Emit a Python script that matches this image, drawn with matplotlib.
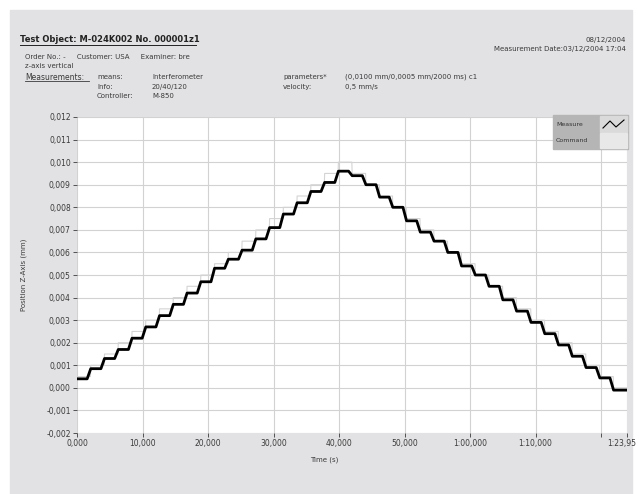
import matplotlib.pyplot as plt
import numpy as np
from matplotlib.patches import Rectangle
from matplotlib.transforms import ScaledTranslation

# step start times (s), plus end time
step_times = [0.0, 2.1, 4.2, 6.3, 8.4, 10.5, 12.6, 14.7, 16.8, 18.9,
              21.0, 23.1, 25.2, 27.3, 29.4, 31.5, 33.6, 35.7, 37.8, 39.9,
              42.0, 44.1, 46.2, 48.2, 50.3, 52.4, 54.5, 56.6, 58.7, 60.8,
              62.9, 65.0, 67.1, 69.3, 71.4, 73.5, 75.6, 77.7, 79.8, 81.9]
end_time = 83.95

# measured position (mm) for each step
measure = [0.0004, 0.00085, 0.0013, 0.0017, 0.0022, 0.0027, 0.0032, 0.0037, 0.0042, 0.0047,
           0.0053, 0.0057, 0.0061, 0.0066, 0.0071, 0.0077, 0.0082, 0.0087, 0.0091, 0.0096,
           0.0094, 0.0090, 0.00845, 0.0080, 0.0074, 0.0069, 0.0065, 0.0060, 0.0054, 0.0050,
           0.0045, 0.0039, 0.0034, 0.0029, 0.0024, 0.0019, 0.0014, 0.0009, 0.00044, -0.0001]

# commanded position (mm)
command = [0.0005, 0.0010, 0.0015, 0.0020, 0.0025, 0.0030, 0.0035, 0.0040, 0.0045, 0.0050,
           0.0055, 0.0060, 0.0065, 0.0070, 0.0075, 0.0080, 0.0085, 0.0090, 0.0095, 0.0100,
           0.0095, 0.0090, 0.0085, 0.0080, 0.0075, 0.0070, 0.0065, 0.0060, 0.0055, 0.0050,
           0.0045, 0.0040, 0.0035, 0.0030, 0.0025, 0.0020, 0.0015, 0.0010, 0.0005, 0.0000]

x_ticks = [0, 10, 20, 30, 40, 50, 60, 70, 80, 83.95]
x_labels = ['0,000', '10,000', '20,000', '30,000', '40,000', '50,000',
            '1:00,000', '1:10,000', '', '1:23,95']
y_ticks = [-0.002, -0.001, 0.000, 0.001, 0.002, 0.003, 0.004, 0.005, 0.006,
           0.007, 0.008, 0.009, 0.010, 0.011, 0.012]
y_labels = ['-0,002', '-0,001', '0,000', '0,001', '0,002', '0,003', '0,004', '0,005',
            '0,006', '0,007', '0,008', '0,009', '0,010', '0,011', '0,012']


def staircase(times, levels, end, ramp=0.35):
    # plateau on each level, short slanted move to the next one
    xs, ys = [], []
    bounds = list(times) + [end]
    for i, lvl in enumerate(levels):
        xs += [bounds[i], bounds[i + 1] - (ramp if i < len(levels) - 1 else 0)]
        ys += [lvl, lvl]
    return xs, ys


txt = '#3a3a3a'
fig = plt.figure(figsize=(6.39, 4.94), dpi=100)
fig.patches.append(Rectangle((10 / 639, 0), 622 / 639, 484 / 494,
                             transform=fig.transFigure, color='#e2e2e4', zorder=-1))

ax = fig.add_axes([77 / 639, (494 - 433) / 494, 550 / 639, 316 / 494])
ax.set_facecolor('white')

cx, cy = staircase(step_times, command, end_time, ramp=0.05)
ax.plot(cx, cy, color='#d4d4d4', lw=0.8, zorder=2)
mx, my = staircase(step_times, measure, end_time, ramp=0.55)
ax.plot(mx, my, color='black', lw=2.0, zorder=3)

ax.set_xlim(0, end_time)
ax.set_ylim(-0.002, 0.012)
ax.set_xticks(x_ticks)
ax.set_xticklabels(x_labels)
ax.set_yticks(y_ticks)
ax.set_yticklabels(y_labels)
ax.tick_params(labelsize=5.5, colors=txt, length=3, width=0.6, pad=1.5)
last = ax.get_xticklabels()[-1]
last.set_horizontalalignment('right')
last.set_transform(last.get_transform() + ScaledTranslation(0.09, 0, fig.dpi_scale_trans))
ax.grid(True, color='#d2d2d2', lw=0.8)
for s in ax.spines.values():
    s.set_visible(False)
ax.set_xlabel('Time (s)', fontsize=5, color=txt, labelpad=5)
ax.xaxis.set_label_coords(0.45, -0.075)
ax.set_ylabel('Position Z-Axis (mm)', fontsize=5, color=txt, labelpad=14)

# legend box
fig.patches.append(Rectangle((553 / 639, (494 - 149) / 494), 75 / 639, 34 / 494,
                             transform=fig.transFigure, color='#b5b5b5', zorder=5))
fig.patches.append(Rectangle((600 / 639, (494 - 132) / 494), 27 / 639, 16 / 494,
                             transform=fig.transFigure, color='#dadada', zorder=6))
fig.patches.append(Rectangle((600 / 639, (494 - 148) / 494), 27 / 639, 15 / 494,
                             transform=fig.transFigure, color='#e8e8e8', zorder=6))
fig.text(556 / 639, 1 - 124 / 494, 'Measure', fontsize=4.5, color='#333333', va='center', zorder=7)
fig.text(556 / 639, 1 - 140 / 494, 'Command', fontsize=4.5, color='#333333', va='center', zorder=7)
fig.lines.append(plt.Line2D([603 / 639, 610 / 639, 616 / 639, 624 / 639],
                            [1 - 128 / 494, 1 - 121 / 494, 1 - 127 / 494, 1 - 120 / 494],
                            transform=fig.transFigure, color='black', lw=0.8, zorder=7))

# header
fig.text(20 / 639, 1 - 40 / 494, 'Test Object: M-024K002 No. 000001z1', fontsize=6,
         fontweight='bold', color='#222222', va='center')
fig.lines.append(plt.Line2D([20 / 639, 196 / 639], [1 - 45 / 494, 1 - 45 / 494],
                            transform=fig.transFigure, color='#222222', lw=0.7))
fig.text(25 / 639, 1 - 57 / 494, 'Order No.: -     Customer: USA     Examiner: bre',
         fontsize=5, color=txt, va='center')
fig.text(25 / 639, 1 - 66 / 494, 'z-axis vertical', fontsize=5, color=txt, va='center')
fig.text(25 / 639, 1 - 77 / 494, 'Measurements:', fontsize=5.5, color=txt, va='center')
fig.lines.append(plt.Line2D([25 / 639, 89 / 639], [1 - 81 / 494, 1 - 81 / 494],
                            transform=fig.transFigure, color=txt, lw=0.6))
for lbl, val, yy in [('means:', 'Interferometer', 77), ('Info:', '20/40/120', 87),
                     ('Controller:', 'M-850', 96)]:
    fig.text(97 / 639, 1 - yy / 494, lbl, fontsize=5, color=txt, va='center')
    fig.text(152 / 639, 1 - yy / 494, val, fontsize=5, color=txt, va='center')
fig.text(283 / 639, 1 - 77 / 494, 'parameters*', fontsize=5, color=txt, va='center')
fig.text(283 / 639, 1 - 87 / 494, 'velocity:', fontsize=5, color=txt, va='center')
fig.text(345 / 639, 1 - 77 / 494, '(0,0100 mm/0,0005 mm/2000 ms) c1', fontsize=5,
         color=txt, va='center')
fig.text(345 / 639, 1 - 87 / 494, '0,5 mm/s', fontsize=5, color=txt, va='center')
fig.text(626 / 639, 1 - 40 / 494, '08/12/2004', fontsize=5, color=txt, va='center', ha='right')
fig.text(626 / 639, 1 - 49 / 494, 'Measurement Date:03/12/2004 17:04', fontsize=5,
         color=txt, va='center', ha='right')

fig.savefig('out.png', dpi=100)
